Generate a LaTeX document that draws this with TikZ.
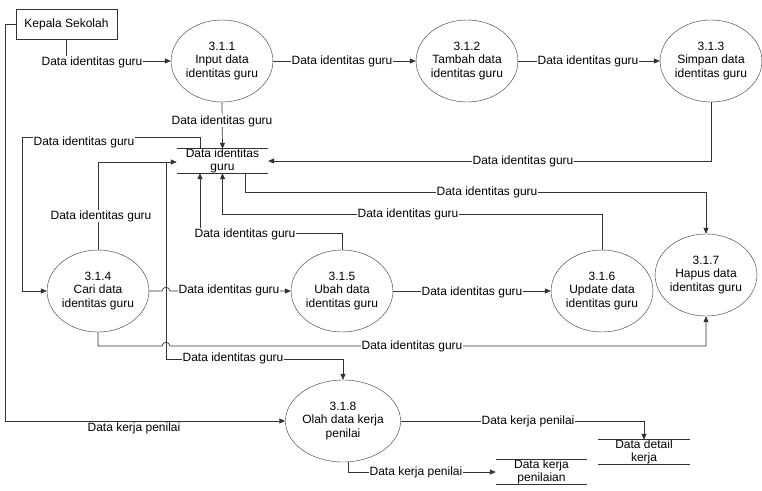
\documentclass[tikz,border=0pt]{standalone}
\usepackage{fontspec}
\setmainfont{Liberation Sans}
\usetikzlibrary{shapes.geometric,arrows.meta,calc}
\begin{document}
\begin{tikzpicture}[x=1pt,y=-1pt,
  every node/.style={font=\fontsize{12}{13.5}\selectfont},
  proc/.style={draw=black!80,ellipse,minimum width=99pt,minimum height=82pt,inner sep=0pt,align=center},
  ent/.style={draw=black!80,rectangle,minimum width=101pt,minimum height=30pt,inner sep=0pt},
  store/.style={rectangle,minimum width=91pt,minimum height=24pt,inner sep=0pt},
  stxt/.style={align=center,inner sep=0pt},
  lbl/.style={fill=white,inner sep=0.8pt},
  line/.style={draw=black!80,line width=0.7pt},
  arr/.style={line,-{Triangle[length=6pt,width=5pt]}}]
\useasboundingbox (0,0) rectangle (762,490);

% entity
\node[ent] (ks) at (66.5,24) {Kepala Sekolah};

% processes
\node[proc] (c311) at (222,61) {3.1.1\\Input data\\identitas guru};
\node[proc] (c312) at (467,61) {3.1.2\\Tambah data\\identitas guru};
\node[proc] (c313) at (711,61) {3.1.3\\Simpan data\\identitas guru};
\node[proc] (c314) at (98,291) {3.1.4\\Cari data\\identitas guru};
\node[proc] (c315) at (342,291) {3.1.5\\Ubah data\\identitas guru};
\node[proc] (c316) at (602,291) {3.1.6\\Update data\\identitas guru};
\node[proc] (c317) at (706,275) {3.1.7\\Hapus data\\identitas guru};
\node[proc] (c318) at (343,421) {3.1.8\\Olah data kerja\\penilai};

% data stores
\node[store] (s1) at (222.5,161) {};
\node[stxt] (s1t) at (222.5,161) {Data identitas\\guru};
\node[store] (s3) at (644,452) {};
\node[stxt] (s3t) at (644,452) {Data detail\\kerja};
\node[store] (s2) at (541.5,472) {};
\node[stxt] (s2t) at (541.5,472) {Data kerja\\penilaian};
\foreach \s in {s1,s2,s3}{
  \draw[line] (\s.north west) -- (\s.north east);
  \draw[line] (\s.south west) -- (\s.south east);
}

% connectors
\draw[arr] (ks.west) -- (5,24) |- (c318.west);
\draw[arr] (ks.south) |- (c311.west);
\draw[arr] (c311.east) -- (c312.west);
\draw[arr] (c312.east) -- (c313.west);
\draw[arr] (c311.south) -- (s1.north);
\draw[arr] (c313.south) |- (s1.east);
\draw[arr] (s1.south -| 245,0) |- (c317.north |- 0,192) -- (c317.north);
\draw[arr] (c316.north) |- (s1.south |- 0,214) -- (s1.south);
\draw[arr] (c315.north) |- (200,233) -- (s1.south -| 200,0);
\coordinate (j1) at (98,162);
\coordinate (j2) at (166,162);
\draw[arr] (c314.north) -- (j1) -- (s1.west |- j1);
\draw[arr] (j2) -- (166,359) -| (c318.north);
\draw[arr] (s1.north -| 200,0) -- (200,137) -| (22,291) -- (c314.west);
\draw[arr] (c314.east) -- (162,291) .. controls (163,286) and (169,286) .. (170,291) -- (c315.west);
\draw[arr] (c315.east) -- (c316.west);
\draw[arr] (c314.south) |- (162,346) .. controls (163,341) and (169,341) .. (170,346) -- (c317.south |- 0,346) -- (c317.south);
\draw[arr] (c318.east) -| (s3.north);
\draw[arr] ([xshift=5pt]c318.south) |- (s2.west);

% labels
\node[lbl] (l1) at (134,428) {Data kerja penilai};
\node[lbl] (l2) at (92,62) {Data identitas guru};
\node[lbl] (l3) at (342,61) {Data identitas guru};
\node[lbl] (l4) at (588,61) {Data identitas guru};
\node[lbl] (l5) at (222,121) {Data identitas guru};
\node[lbl] (l6) at (523,161) {Data identitas guru};
\node[lbl] (l7) at (487,192) {Data identitas guru};
\node[lbl] (l8) at (408,214) {Data identitas guru};
\node[lbl] (l9) at (245,234) {Data identitas guru};
\node[lbl] (l10) at (101,216) {Data identitas guru};
\node[lbl] (l11) at (84,142) {Data identitas guru};
\node[lbl] (l12) at (229,290) {Data identitas guru};
\node[lbl] (l13) at (472,292) {Data identitas guru};
\node[lbl] (l14) at (412,346) {Data identitas guru};
\node[lbl] (l15) at (233,358) {Data identitas guru};
\node[lbl] (l16) at (528,421) {Data kerja penilai};
\node[lbl] (l17) at (416,472) {Data kerja penilai};
\end{tikzpicture}
\end{document}
